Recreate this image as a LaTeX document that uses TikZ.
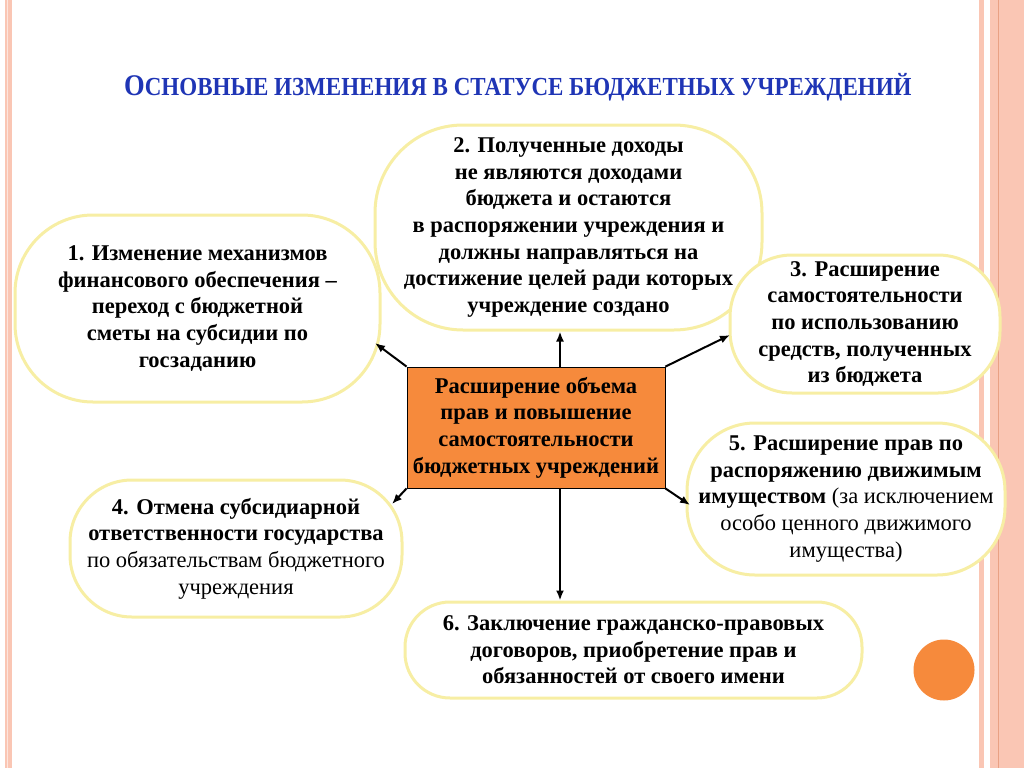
\documentclass[tikz,border=0pt]{standalone}
\usepackage{fontspec}
\setmainfont{Liberation Serif}
\usetikzlibrary{arrows.meta,positioning,calc}
\definecolor{slideBlue}{HTML}{1F35B5}
\definecolor{slideOrange}{HTML}{F68A3C}
\definecolor{slideYellow}{HTML}{F7EEA4}
\definecolor{slidePink}{HTML}{FAC6B4}
\definecolor{slideRose}{HTML}{E9A184}

\begin{document}
\begin{tikzpicture}[x=1pt,y=-1pt,>={Latex[length=10pt,width=8pt]},
  idea/.style={draw=slideYellow,line width=3pt,fill=white,align=center,inner sep=0pt,
    font=\fontsize{22.5}{26.6}\selectfont},
  core/.style={draw=black,line width=0.8pt,fill=slideOrange,align=center,inner sep=0pt,
    font=\bfseries\fontsize{22.5}{26.6}\selectfont,minimum width=258pt,minimum height=121pt},
  link/.style={->,line width=2pt}]
\useasboundingbox (0,0) rectangle (1024,768);
\fill[slidePink] (5,0) rectangle (12,768);
\draw[white!55!slidePink,line width=1.5pt] (7.5,0) -- (7.5,768);
\fill[slidePink] (979,0) rectangle (984,768);
\fill[slidePink] (990,0) rectangle (1024,768);
\draw[slideRose,line width=1pt] (998.5,0) -- (998.5,768);
\node[circle,fill=slideOrange,minimum size=61pt,inner sep=0pt] (dot) at (944,670) {};

\node[anchor=base west,inner sep=0pt,text=slideBlue,font=\bfseries] (title) at (124,95)
  {\scalebox{0.885}[1]{\fontsize{30}{30}\selectfont О\fontsize{26}{26}\selectfont СНОВНЫЕ ИЗМЕНЕНИЯ В СТАТУСЕ БЮДЖЕТНЫХ УЧРЕЖДЕНИЙ}};

\node[core] (c) at (536,427.5) {Расширение объема\\ прав и повышение\\ самостоятельности\\ бюджетных учреждений};

\node[idea,rounded corners=78pt,minimum width=365pt,minimum height=187pt] (n1) at (197.5,308.5)
  {\bfseries 1. Изменение механизмов\\ \bfseries финансового обеспечения --\\ \bfseries переход с бюджетной\\ \bfseries сметы на субсидии по\\ \bfseries госзаданию};
\node[idea,rounded corners=88pt,minimum width=387pt,minimum height=205pt] (n2) at (568.5,227.5)
  {\bfseries 2. Полученные доходы\\ \bfseries не являются доходами\\ \bfseries бюджета и остаются\\ \bfseries в распоряжении учреждения и\\ \bfseries должны направляться на\\ \bfseries достижение целей ради которых\\ \bfseries учреждение создано};
\node[idea,rounded corners=62pt,minimum width=270pt,minimum height=138pt] (n3) at (865,324)
  {\bfseries 3. Расширение\\ \bfseries самостоятельности\\ \bfseries по использованию\\ \bfseries средств, полученных\\ \bfseries из бюджета};
\node[idea,rounded corners=62pt,minimum width=332pt,minimum height=137pt] (n4) at (236,548.5)
  {\bfseries 4. Отмена субсидиарной\\ \bfseries ответственности государства\\ по обязательствам бюджетного\\ учреждения};
\node[idea,rounded corners=68pt,minimum width=318pt,minimum height=152pt] (n5) at (846,499)
  {\bfseries 5. Расширение прав по\\ \bfseries распоряжению движимым\\ \textbf{имуществом} (за исключением\\ особо ценного движимого\\ имущества)};
\node[idea,rounded corners=45pt,minimum width=457pt,minimum height=96pt] (n6) at (633.5,650)
  {\bfseries 6. Заключение гражданско-правовых\\ \bfseries договоров, приобретение прав и\\ \bfseries обязанностей от своего имени};

\coordinate (t1) at (375,343);
\coordinate (t3) at (730,335);
\coordinate (t4) at (392,504);
\coordinate (t5) at (690,505);
\draw[link] ([xshift=24pt]c.north) -- ([xshift=24pt]c.north |- n2.south);
\draw[link] (c.north west) -- (t1);
\draw[link] (c.north east) -- (t3);
\draw[link] (c.south west) -- (t4);
\draw[link] (c.south east) -- (t5);
\draw[link] ([xshift=24pt]c.south) -- ([xshift=24pt]c.south |- n6.north);
\end{tikzpicture}
\end{document}
